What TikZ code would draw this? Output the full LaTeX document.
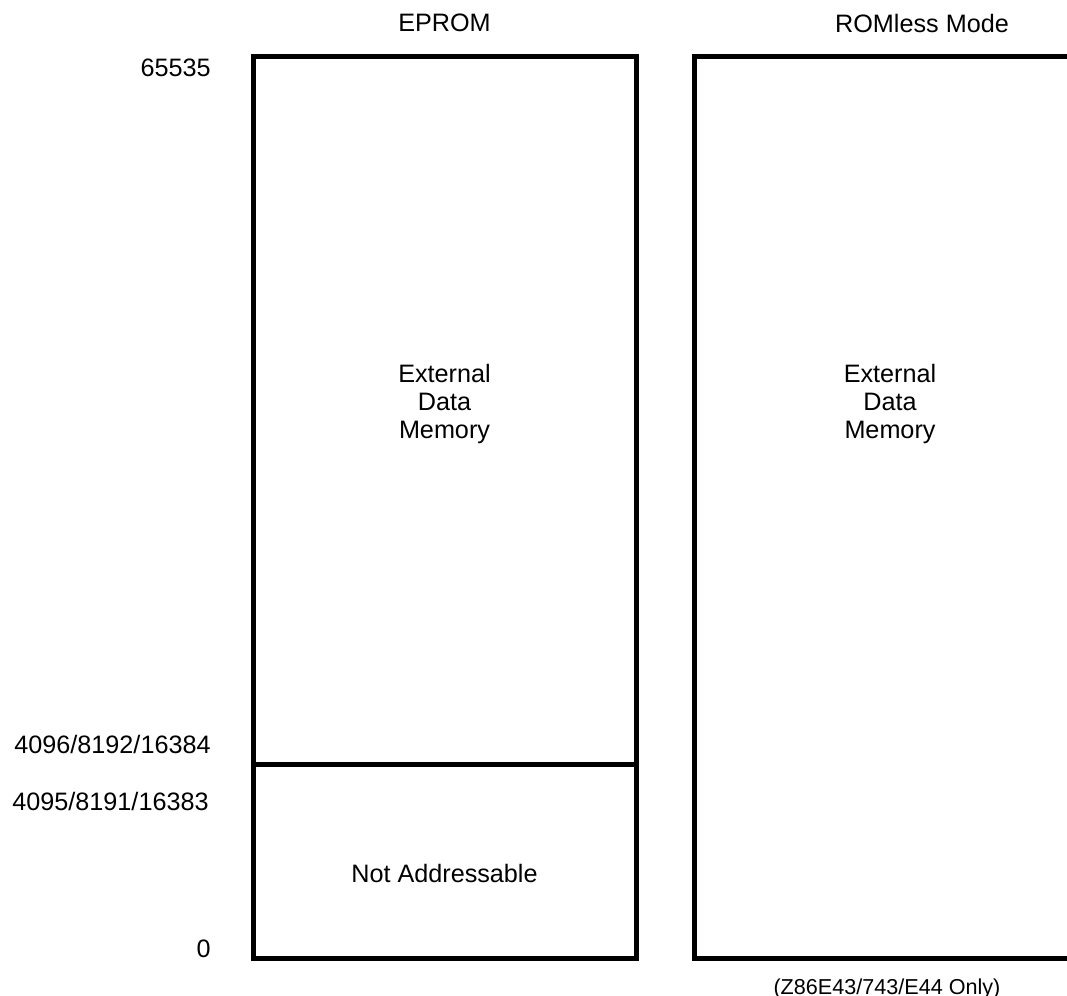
\documentclass[tikz,border=0pt]{standalone}
\usepackage{fontspec}
\setmainfont{Liberation Sans}
\usepackage{tikz}
\usetikzlibrary{positioning}

\begin{document}
\begin{tikzpicture}[
    x=0.5pt, y=-0.5pt,
    membox/.style={
        rectangle, draw, line width=2.5pt,
        minimum height=451pt, inner sep=0pt
    },
    txt/.style={
        inner sep=0pt, font=\fontsize{12.6}{14}\selectfont, align=center
    },
    addr/.style={txt, anchor=base east},
    wall/.style={line width=2.5pt},
]

%% Page frame
\clip (0,0) rectangle (1067,996);

%% Memory boxes
\node[membox, minimum width=191.5pt] (eprom) at (444.5,507) {};
\node[membox, minimum width=196pt]   (romless) at (890,507) {};

%% Boundary inside EPROM box
\coordinate (split) at (0,764);
\draw[wall] (eprom.west |- split) -- (eprom.east |- split);

%% Column titles
\node[txt] (t1) at (444.5,23) {EPROM};
\node[txt] (t2) at (922,23) {ROMless Mode};

%% Address labels
\node[addr] (a1) at (211,76)  {65535};
\node[addr] (a2) at (211,753) {4096/8192/16384};
\node[addr] (a3) at (209,810) {4095/8191/16383};
\node[addr] (a4) at (211,957) {0};

%% Region texts
\node[txt] (ext1) at (444.5,404) {External\\Data\\Memory};
\node[txt] (ext2) at (890,404)   {External\\Data\\Memory};
\node[txt] (nadr) at (444.5,873) {Not Addressable};

%% Footnote
\node[txt, anchor=base, font=\fontsize{10.8}{12}\selectfont] (note) at (887,994) {(Z86E43/743/E44 Only)};

\end{tikzpicture}
\end{document}
